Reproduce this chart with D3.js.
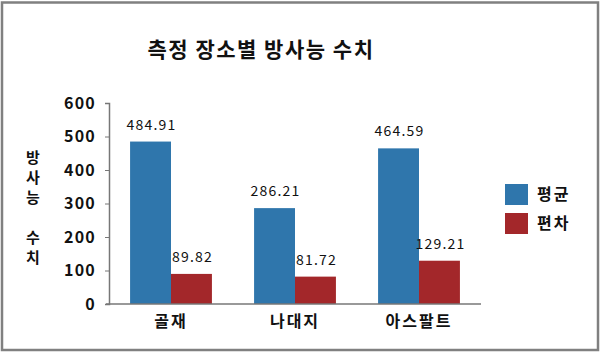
<!DOCTYPE html>
<html>
<head>
<meta charset="utf-8">
<script src="https://cdn.jsdelivr.net/npm/d3@7"></script>
<style>
  body { margin: 0; background: #fff; }
  text { font-family: "Noto Sans CJK KR", "DejaVu Sans", sans-serif; }
</style>
</head>
<body>
<div id="chart"></div>
<script>
const title = '측정 장소별 방사능 수치';
const places = ['골재', '나대지', '아스팔트'];
const seriesNames = ['평균', '편차'];
const meanValues = [484.91, 286.21, 464.59];
const devValues = [89.82, 81.72, 129.21];
const yTicks = [0, 100, 200, 300, 400, 500, 600];
const yTitleChars = ['방', '사', '능', '', '수', '치'];

const width = 600;
const height = 352;
const margin = { top: 103, right: 119, bottom: 48, left: 109 };

const colors = ['#2f76ac', '#a3272a'];

const data = places.map((p, i) => ({ place: p, values: [meanValues[i], devValues[i]] }));

const svg = d3.select('#chart')
    .append('svg')
    .attr('width', width)
    .attr('height', height);

// 외곽 테두리
svg.append('rect')
    .attr('x', 2)
    .attr('y', 2.5)
    .attr('width', 596)
    .attr('height', 347.5)
    .attr('fill', 'white')
    .attr('stroke', '#808080')
    .attr('stroke-width', 2.5);

const x0 = d3.scaleBand()
    .domain(places)
    .range([margin.left, width - margin.right])
    .paddingInner(0.34)
    .paddingOuter(0.17);

const x1 = d3.scaleBand()
    .domain(seriesNames)
    .range([0, x0.bandwidth()]);

const y = d3.scaleLinear()
    .domain([0, 600])
    .range([height - margin.bottom, margin.top]);

// 제목
svg.append('text')
    .attr('x', 261)
    .attr('y', 57)
    .attr('text-anchor', 'middle')
    .attr('font-size', '21px')
    .attr('font-weight', 'bold')
    .attr('letter-spacing', '1.5px')
    .attr('fill', '#111')
    .text(title);

// 막대
const groups = svg.selectAll('g.group')
    .data(data)
    .join('g')
    .attr('class', 'group')
    .attr('transform', d => `translate(${x0(d.place)},0)`);

groups.selectAll('rect')
    .data(d => d.values.map((v, i) => ({ key: seriesNames[i], value: v, i })))
    .join('rect')
    .attr('x', d => x1(d.key))
    .attr('y', d => y(d.value))
    .attr('width', x1.bandwidth())
    .attr('height', d => y(0) - y(d.value))
    .attr('fill', d => colors[d.i]);

groups.selectAll('text.val')
    .data(d => d.values.map((v, i) => ({ key: seriesNames[i], value: v, i })))
    .join('text')
    .attr('class', 'val')
    .attr('x', d => x1(d.key) + x1.bandwidth() / 2 + 1)
    .attr('y', d => y(d.value) - 12)
    .attr('text-anchor', 'middle')
    .attr('font-size', '14px')
    .attr('letter-spacing', '1.2px')
    .attr('fill', '#111')
    .text(d => d.value.toFixed(2));

// y축
const yAxis = svg.append('g')
    .attr('transform', `translate(${margin.left},0)`)
    .call(d3.axisLeft(y).tickValues(yTicks).tickSize(4).tickPadding(9));
yAxis.select('.domain').attr('stroke', '#777').attr('stroke-width', 1.5);
yAxis.selectAll('.tick line').attr('stroke', '#777');
yAxis.selectAll('.tick text')
    .attr('font-size', '16px')
    .attr('font-weight', 'bold')
    .attr('letter-spacing', '1.2px')
    .attr('fill', '#111')
    .attr('font-family', '"Noto Sans CJK KR", sans-serif');

// x축
const xAxis = svg.append('g')
    .attr('transform', `translate(0,${height - margin.bottom})`)
    .call(d3.axisBottom(x0).tickSize(0).tickPadding(12).tickSizeOuter(0));
xAxis.select('.domain')
    .attr('d', `M${margin.left - 3},0H${width - margin.right}`)
    .attr('stroke', '#777')
    .attr('stroke-width', 1.5);
xAxis.selectAll('.tick text')
    .attr('font-size', '16px')
    .attr('font-weight', 'bold')
    .attr('letter-spacing', '2px')
    .attr('fill', '#111')
    .attr('font-family', '"Noto Sans CJK KR", sans-serif');

// y축 제목 (세로 글자)
svg.append('g')
    .selectAll('text')
    .data(yTitleChars)
    .join('text')
    .attr('x', 33)
    .attr('y', (d, i) => 163 + i * 20)
    .attr('text-anchor', 'middle')
    .attr('font-size', '15px')
    .attr('font-weight', 'bold')
    .attr('fill', '#111')
    .text(d => d);

// 범례
const legend = svg.append('g')
    .attr('transform', 'translate(505,184)');
const items = legend.selectAll('g')
    .data(seriesNames)
    .join('g')
    .attr('transform', (d, i) => `translate(0,${i * 29})`);
items.append('rect')
    .attr('width', 23)
    .attr('height', 21)
    .attr('fill', (d, i) => colors[i]);
items.append('text')
    .attr('x', 32)
    .attr('y', 16)
    .attr('font-size', '16px')
    .attr('font-weight', 'bold')
    .attr('letter-spacing', '2px')
    .attr('fill', '#111')
    .text(d => d);
</script>
</body>
</html>
